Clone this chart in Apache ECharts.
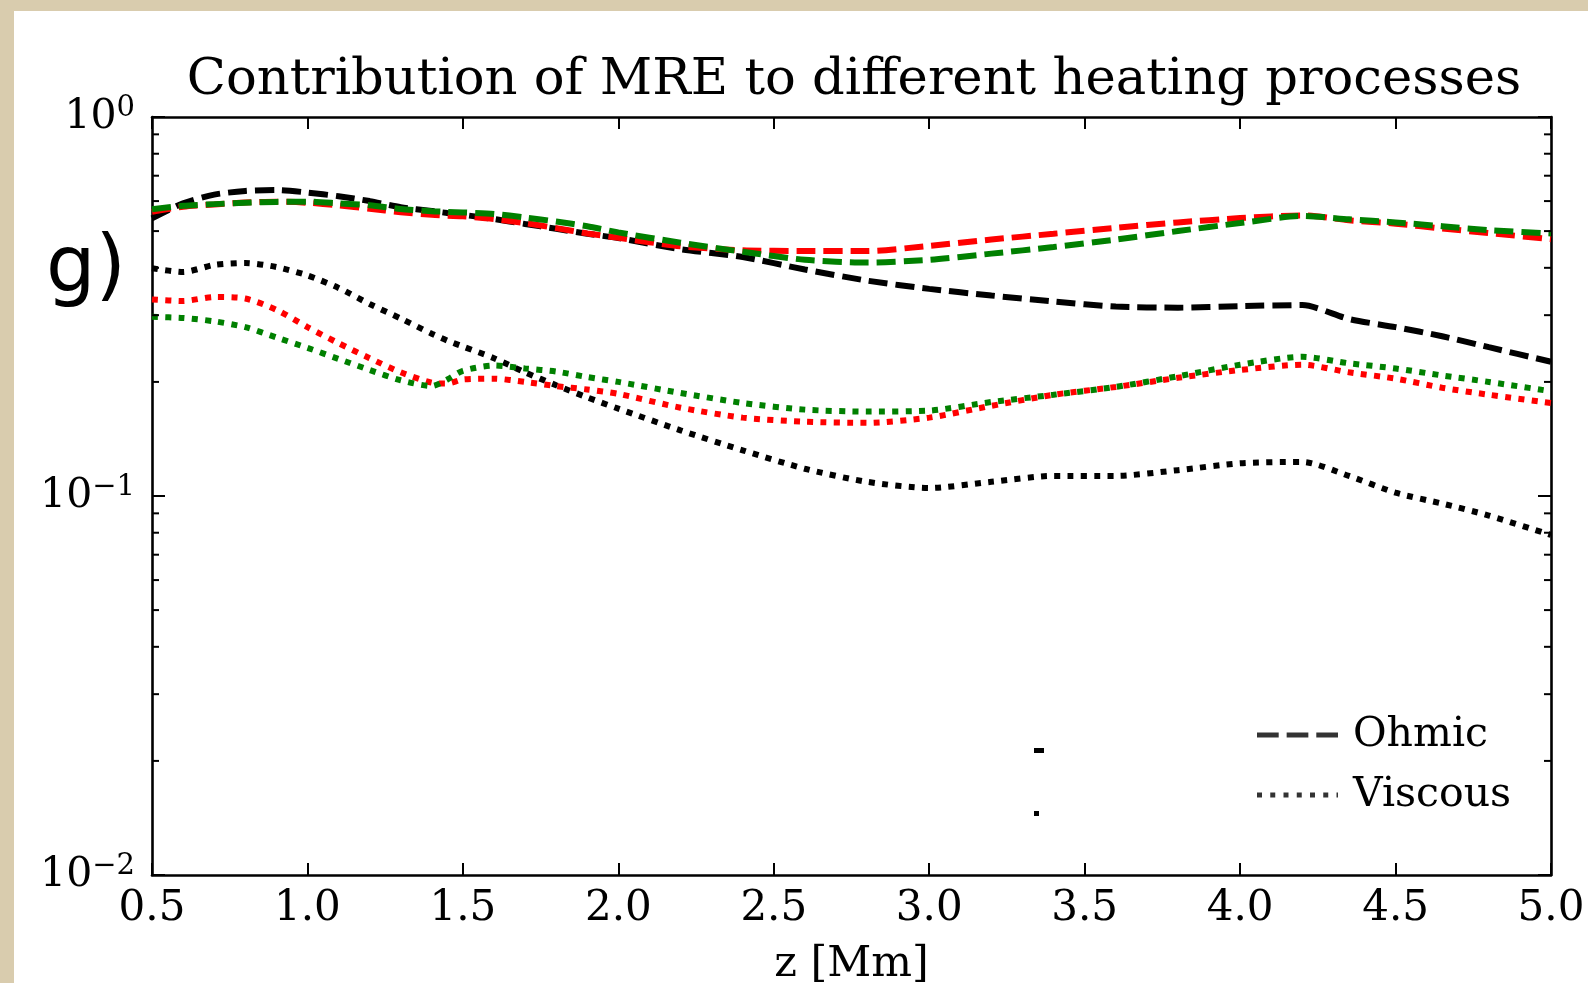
<!DOCTYPE html>
<html>
<head>
<meta charset="utf-8">
<script src="https://cdn.jsdelivr.net/npm/echarts@6/dist/echarts.min.js"></script>
<style>
  html, body { margin: 0; padding: 0; background: #d9ccae; }
  #chart { width: 1588px; height: 983px; }
</style>
</head>
<body>
<div id="chart"></div>
<script>
// ---- data ----
const zValues = [0.5,0.6,0.7,0.8,0.9,1.0,1.1,1.2,1.3,1.4,1.45,1.5,1.6,1.7,1.8,1.9,2.0,2.2,2.4,2.6,2.8,3.0,3.2,3.4,3.6,3.8,4.0,4.2,4.35,4.5,4.65,4.8,5.0];

const ohmicBlack   = [0.540,0.592,0.624,0.638,0.642,0.632,0.618,0.600,0.578,0.565,0.558,0.552,0.538,0.522,0.507,0.492,0.479,0.448,0.427,0.396,0.370,0.352,0.338,0.326,0.316,0.314,0.317,0.319,0.293,0.279,0.264,0.247,0.226];
const ohmicRed     = [0.562,0.580,0.588,0.595,0.598,0.594,0.585,0.573,0.561,0.552,0.549,0.547,0.538,0.525,0.509,0.493,0.480,0.456,0.445,0.443,0.443,0.457,0.475,0.492,0.510,0.527,0.541,0.550,0.534,0.523,0.508,0.494,0.476];
const ohmicGreen   = [0.571,0.583,0.589,0.594,0.597,0.598,0.592,0.585,0.572,0.564,0.562,0.560,0.555,0.543,0.530,0.515,0.496,0.466,0.441,0.420,0.413,0.420,0.436,0.454,0.475,0.500,0.525,0.548,0.537,0.527,0.515,0.503,0.493];
const viscousBlack = [0.399,0.390,0.407,0.412,0.402,0.382,0.354,0.321,0.294,0.268,0.257,0.248,0.231,0.212,0.196,0.182,0.170,0.149,0.132,0.118,0.109,0.105,0.109,0.113,0.113,0.117,0.122,0.123,0.113,0.102,0.0955,0.0888,0.0789];
const viscousRed   = [0.330,0.327,0.335,0.332,0.310,0.279,0.253,0.231,0.212,0.199,0.198,0.203,0.204,0.200,0.195,0.191,0.186,0.171,0.161,0.157,0.156,0.161,0.173,0.185,0.194,0.205,0.215,0.222,0.212,0.204,0.193,0.185,0.176];
const viscousGreen = [0.297,0.295,0.289,0.279,0.262,0.246,0.230,0.215,0.202,0.195,0.203,0.214,0.221,0.217,0.213,0.206,0.200,0.187,0.176,0.169,0.167,0.168,0.177,0.185,0.194,0.207,0.222,0.233,0.224,0.217,0.208,0.200,0.189];

const xMin = 0.5, xMax = 5.0, xStep = 0.5;
const yMin = 0.01, yMax = 1;
const yMinorTicks = [0.02,0.03,0.04,0.05,0.06,0.07,0.08,0.09,0.2,0.3,0.4,0.5,0.6,0.7,0.8,0.9];

const titleText = 'Contribution of MRE to different heating processes';
const xName = 'z [Mm]';
const panelLabel = 'g)';
const legendNames = ['Ohmic', 'Viscous'];

// ---- chart ----
const chart = echarts.init(document.getElementById('chart'), null, { renderer: 'canvas' });
const pair = arr => zValues.map((z, i) => [z, arr[i]]);
const SERIF = 'DejaVu Serif';

const LW = 6;
const dashed = [19, 8];
const dotted = [6, 7.3];

const dashIcon = 'path://M0 0H21.7V5H0Z M29.65 0H51.35V5H29.65Z M59.3 0H81V5H59.3Z';
const dotIcon = 'path://M0 0h5v5h-5z M13.25 0h5v5h-5z M26.5 0h5v5h-5z M39.75 0h5v5h-5z M53 0h5v5h-5z M66.25 0h5v5h-5z M79.5 0h1.5v5h-1.5z';

function lineSeries(name, data, color, dash) {
  return {
    name: name, type: 'line', data: pair(data), symbol: 'none',
    smooth: 0.25,
    xAxisIndex: 0, yAxisIndex: 0,
    lineStyle: { color: color, width: LW, type: dash, cap: 'butt' },
    itemStyle: { color: color },
    emphasis: { disabled: true }, z: 3
  };
}

function supLabel(v) {
  const e = Math.round(Math.log10(v));
  const s = e < 0 ? '\u2212' + Math.abs(e) : String(e);
  return '{b|10}{s|' + s + '}';
}

const axisLineStyle = { color: '#000', width: 2.6 };
const tickStyle = { color: '#000', width: 2 };

const option = {
  backgroundColor: '#d9ccae',
  animation: false,
  title: {
    text: titleText,
    left: 849, top: 50, textAlign: 'center',
    textStyle: { fontFamily: SERIF, fontSize: 51.2, fontWeight: 'normal', color: '#000' }
  },
  grid: { left: 152, right: 37, top: 117, bottom: 108, containLabel: false, outerBoundsMode: 'none' },
  legend: {
    data: [
      { name: legendNames[0], icon: dashIcon },
      { name: legendNames[1], icon: dotIcon }
    ],
    orient: 'vertical', left: 1257, top: 713, padding: 0,
    itemWidth: 81, itemHeight: 5, itemGap: 16, symbolKeepAspect: false,
    textStyle: { fontFamily: SERIF, fontSize: 41, lineHeight: 44, color: '#000', padding: [0, 0, 0, 10] },
    selectedMode: false
  },
  xAxis: [{
    type: 'value', min: xMin, max: xMax, interval: xStep, position: 'bottom',
    name: xName, nameLocation: 'middle', nameGap: 68,
    nameTextStyle: { fontFamily: SERIF, fontSize: 43, color: '#000' },
    axisLine: { lineStyle: axisLineStyle },
    axisTick: { inside: true, length: 12, lineStyle: tickStyle },
    axisLabel: { fontFamily: SERIF, fontSize: 42, color: '#000', margin: 13,
      formatter: v => v.toFixed(1), showMinLabel: true, showMaxLabel: true },
    splitLine: { show: false }
  }, {
    type: 'value', min: xMin, max: xMax, interval: xStep, position: 'top',
    axisLine: { lineStyle: axisLineStyle },
    axisTick: { inside: true, length: 12, lineStyle: tickStyle },
    axisLabel: { show: false }, splitLine: { show: false }
  }],
  yAxis: [{
    type: 'log', logBase: 10, min: yMin, max: yMax, splitNumber: 2, position: 'left',
    axisLine: { lineStyle: axisLineStyle },
    axisTick: { inside: true, length: 13, lineStyle: tickStyle },
    axisLabel: {
      margin: 17, formatter: supLabel, showMinLabel: true, showMaxLabel: true,
      rich: {
        b: { fontFamily: SERIF, fontSize: 41, lineHeight: 46, color: '#000' },
        s: { fontFamily: SERIF, fontSize: 29, lineHeight: 29, color: '#000', verticalAlign: 'top' }
      }
    },
    splitLine: { show: false }
  }, {
    type: 'log', logBase: 10, min: yMin, max: yMax, splitNumber: 2, position: 'right',
    axisLine: { lineStyle: axisLineStyle },
    axisTick: { inside: true, length: 13, lineStyle: tickStyle },
    axisLabel: { show: false }, splitLine: { show: false }
  }],
  graphic: [
    { type: 'rect', silent: true, z: -10, shape: { x: 14, y: 11, width: 1574, height: 972 }, style: { fill: '#ffffff' } },
    { type: 'text', silent: true, left: 46, top: 232, style: { text: panelLabel, font: '78px "DejaVu Sans"', fill: '#000' } },
    { type: 'rect', silent: true, shape: { x: 1034, y: 748, width: 10, height: 5 }, style: { fill: '#000' } },
    { type: 'rect', silent: true, shape: { x: 1034, y: 811, width: 5, height: 5 }, style: { fill: '#000' } }
  ],
  series: [
    // legend entries only (no data)
    { name: legendNames[0], type: 'scatter', data: [], itemStyle: { color: '#000' } },
    { name: legendNames[1], type: 'scatter', data: [], itemStyle: { color: '#000' } },
    lineSeries('Ohmic (black)', ohmicBlack, '#000000', dashed),
    lineSeries('Viscous (black)', viscousBlack, '#000000', dotted),
    lineSeries('Ohmic (red)', ohmicRed, '#ff0000', dashed),
    lineSeries('Ohmic (green)', ohmicGreen, '#008000', dashed),
    lineSeries('Viscous (red)', viscousRed, '#ff0000', dotted),
    lineSeries('Viscous (green)', viscousGreen, '#008000', dotted),
    {
      name: 'minorTicks', type: 'custom', xAxisIndex: 0, yAxisIndex: 0, silent: true, z: 5,
      data: yMinorTicks.map(v => [xMin, v]),
      encode: { x: 0, y: 1 },
      renderItem: function (params, api) {
        const v = api.value(1);
        const pl = api.coord([xMin, v]);
        const pr = api.coord([xMax, v]);
        const st = { stroke: '#000', lineWidth: 2 };
        return { type: 'group', children: [
          { type: 'line', shape: { x1: pl[0], y1: pl[1], x2: pl[0] + 7, y2: pl[1] }, style: st },
          { type: 'line', shape: { x1: pr[0] - 7, y1: pr[1], x2: pr[0], y2: pr[1] }, style: st }
        ]};
      }
    }
  ]
};
chart.setOption(option);
</script>
</body>
</html>
